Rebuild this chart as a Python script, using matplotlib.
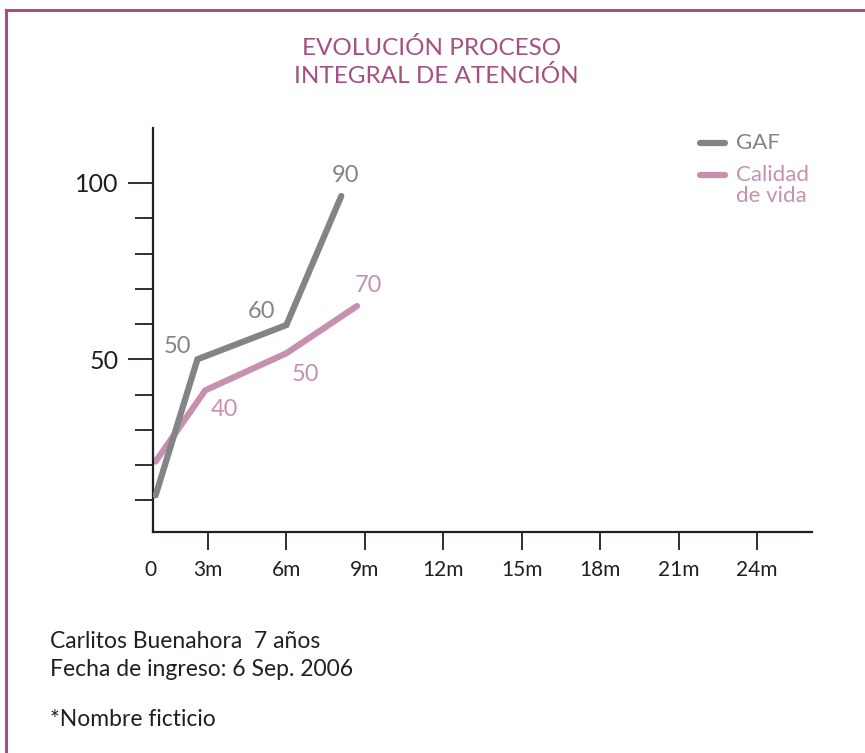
import matplotlib.pyplot as plt
from matplotlib.lines import Line2D

# values (x in months)
gaf_x = [1.0, 2.6, 6.0, 8.1]
gaf_y = [11.4, 50.0, 59.7, 96.3]
gaf_labels = ['', '50', '60', '90']

vida_x = [1.0, 2.9, 6.0, 8.7]
vida_y = [21.0, 41.2, 51.7, 65.1]
vida_labels = ['', '40', '50', '70']

month_ticks = [3, 6, 9, 12, 15, 18, 21, 24]
month_labels = ['3m', '6m', '9m', '12m', '15m', '18m', '21m', '24m']
major_y = [50, 100]
minor_y = [10, 20, 30, 40, 60, 70, 80, 90]

GRAY = '#838488'
PINK = '#c890b0'
TITLE = '#a64f82'
DARK = '#231f20'

plt.rcParams['font.family'] = ['Lato', 'DejaVu Sans']

fig = plt.figure(figsize=(8.65, 7.53), dpi=100)
ax = fig.add_axes([153/865, 1 - 532/753, (812-153)/865, (532-128)/753])

ax.plot(gaf_x, gaf_y, color=GRAY, lw=4.5, solid_capstyle='round', solid_joinstyle='miter', zorder=3)
ax.plot(vida_x, vida_y, color=PINK, lw=4.5, solid_capstyle='round', solid_joinstyle='miter', zorder=2)

# data labels
gaf_off = [(0, 0), (-20, 13), (-25, 14), (4, 21)]
vida_off = [(0, 0), (19, -19), (19, -21), (11, 21)]
for x, y, t, o in zip(gaf_x, gaf_y, gaf_labels, gaf_off):
    if t:
        ax.annotate(t, (x, y), xytext=o, textcoords='offset pixels', ha='center', va='center',
                    color=GRAY, fontsize=17)
for x, y, t, o in zip(vida_x, vida_y, vida_labels, vida_off):
    if t:
        ax.annotate(t, (x, y), xytext=o, textcoords='offset pixels', ha='center', va='center',
                    color=PINK, fontsize=17)

ax.set_xlim(0.9, 26.1)
ax.set_ylim(1, 115.6)
for s in ['top', 'right']:
    ax.spines[s].set_visible(False)
for s in ['left', 'bottom']:
    ax.spines[s].set_linewidth(1.6)
    ax.spines[s].set_color(DARK)

ax.set_xticks(month_ticks)
ax.set_xticklabels(month_labels)
ax.tick_params(axis='x', length=13, width=1.3, color=DARK, labelsize=15, pad=7, labelcolor=DARK)
ax.text(0.8, -0.095, '0', transform=ax.get_xaxis_transform(), ha='center', va='center',
        fontsize=15, color=DARK)

ax.set_yticks(major_y)
ax.set_yticklabels([str(v) for v in major_y])
ax.set_yticks(minor_y, minor=True)
ax.tick_params(axis='y', which='major', length=18, width=1.3, color=DARK, labelsize=18, pad=7, labelcolor=DARK)
ax.tick_params(axis='y', which='minor', length=13, width=1.3, color=DARK)

# legend
fig.add_artist(Line2D([700/865, 725/865], [1-143/753]*2, color=GRAY, lw=4.5, solid_capstyle='round'))
fig.add_artist(Line2D([700/865, 725/865], [1-175/753]*2, color=PINK, lw=4.5, solid_capstyle='round'))
fig.text(736/865, 1-143/753, 'GAF', color=GRAY, fontsize=16, va='center')
fig.text(736/865, 1-175/753, 'Calidad', color=PINK, fontsize=16, va='center')
fig.text(736/865, 1-196/753, 'de vida', color=PINK, fontsize=16, va='center')

# title
fig.text(432/865, 1-48/753, 'EVOLUCIÓN PROCESO', color=TITLE, fontsize=17.5,
         ha='center', va='center')
fig.text(436/865, 1-76/753, 'INTEGRAL DE ATENCIÓN', color=TITLE, fontsize=17.5,
         ha='center', va='center')

# footer
fig.text(50/865, 1-642/753, 'Carlitos Buenahora  7 años', color=DARK, fontsize=16.5, va='center')
fig.text(50/865, 1-669/753, 'Fecha de ingreso: 6 Sep. 2006', color=DARK, fontsize=16.5, va='center')
fig.text(50/865, 1-719/753, '*Nombre ficticio', color=DARK, fontsize=16.5, va='center')

# frame
fig.add_artist(Line2D([6/865, 1.0], [1-10/753]*2, color=TITLE, lw=2.2))
fig.add_artist(Line2D([6/865, 6/865], [0, 1-10/753], color=TITLE, lw=2.2))

fig.savefig('out.png', dpi=100)
